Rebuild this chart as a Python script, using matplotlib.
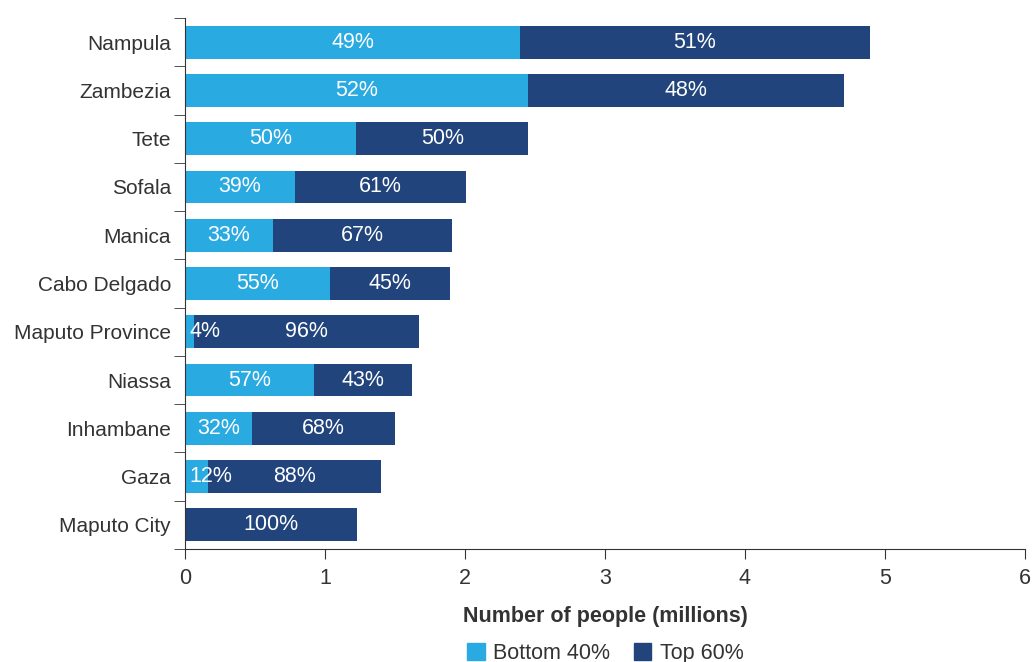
import matplotlib
matplotlib.use("Agg")
import matplotlib.pyplot as plt
from matplotlib.patches import Patch
import numpy as np

plt.rcParams['font.family'] = ['Liberation Sans', 'DejaVu Sans']

# provinces, total people (millions) and share in the bottom 40%
provinces = ["Nampula", "Zambezia", "Tete", "Sofala", "Manica", "Cabo Delgado",
             "Maputo Province", "Niassa", "Inhambane", "Gaza", "Maputo City"]
totals = [4.89, 4.71, 2.45, 2.01, 1.91, 1.89, 1.67, 1.62, 1.50, 1.40, 1.23]
bottom_pct = [49, 52, 50, 39, 33, 55, 4, 57, 32, 12, 0]
top_pct = [51, 48, 50, 61, 67, 45, 96, 43, 68, 88, 100]

light = "#29aae1"
dark = "#21447d"
grey = "#333333"

totals = np.array(totals)
bottom = totals * np.array(bottom_pct) / 100
top = totals - bottom
y = np.arange(len(provinces))

fig = plt.figure(figsize=(10.35, 6.62), dpi=100)
ax = fig.add_axes([0.1787, 0.1707, 0.8116, 0.8021])

h = 0.68
ax.barh(y, bottom, height=h, color=light)
ax.barh(y, top, left=bottom, height=h, color=dark)

fs = 15.5
for i in range(len(provinces)):
    if bottom_pct[i] > 0:
        if bottom[i] < 0.3:
            ax.text(0.03, y[i], f"{bottom_pct[i]}%", ha='left', va='center',
                    color='white', fontsize=fs)
        else:
            ax.text(bottom[i] / 2, y[i], f"{bottom_pct[i]}%", ha='center', va='center',
                    color='white', fontsize=fs)
    if top_pct[i] > 0:
        ax.text(bottom[i] + top[i] / 2, y[i], f"{top_pct[i]}%", ha='center', va='center',
                color='white', fontsize=fs)

ax.set_xlim(0, 6)
ax.set_ylim(len(provinces) - 0.5, -0.5)
ax.set_xticks(range(7))
ax.set_yticks(y)
ax.set_yticklabels(provinces)
ax.set_yticks(np.arange(-0.5, len(provinces), 1), minor=True)
ax.tick_params(axis='y', which='major', length=0, pad=10, labelsize=15, labelcolor=grey)
ax.tick_params(axis='y', which='minor', length=8, color=grey, direction='out')
ax.tick_params(axis='x', length=7, color=grey, labelsize=fs, labelcolor=grey, pad=7)

for s in ['top', 'right']:
    ax.spines[s].set_visible(False)
ax.spines['left'].set_color(grey)
ax.spines['bottom'].set_color(grey)

ax.set_xlabel("Number of people (millions)", fontsize=fs, fontweight='bold',
              color=grey, labelpad=12)

handles = [Patch(color=light, label="Bottom 40%"), Patch(color=dark, label="Top 60%")]
fig.legend(handles=handles, loc='lower center', bbox_to_anchor=(0.585, -0.032), ncol=2,
           frameon=False, fontsize=fs, handlelength=0.8, handleheight=0.8,
           handletextpad=0.4, columnspacing=1.1, labelcolor=grey)

fig.savefig("out.png", dpi=100)
